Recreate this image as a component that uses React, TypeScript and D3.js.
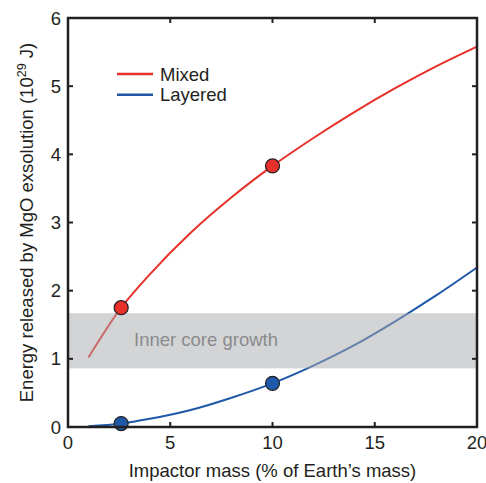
import React from "react";
import * as d3 from "d3";

const massValues = [1, 2.6, 4, 6, 8, 10, 12, 14, 16, 18, 20];
const mixedEnergy = [1.02, 1.75, 2.24, 2.85, 3.37, 3.83, 4.24, 4.62, 4.97, 5.29, 5.58];
const layeredEnergy = [0.01, 0.05, 0.12, 0.25, 0.43, 0.64, 0.9, 1.2, 1.55, 1.93, 2.34];
const markerMass = [2.6, 10];
const mixedMarkers = [1.75, 3.83];
const layeredMarkers = [0.05, 0.64];
const bandRange = [0.86, 1.67];
const xTicks = [0, 5, 10, 15, 20];
const yTicks = [0, 1, 2, 3, 4, 5, 6];
const seriesNames = ["Mixed", "Layered"];
const bandLabel = "Inner core growth";

const W = 486;
const H = 483;
const M = { left: 68, right: 477, top: 18, bottom: 427 };
const RED = "#e8302a";
const BLUE = "#1f58a8";
const AX = "#231f20";
const FONT = "Liberation Sans, Arial, Helvetica, sans-serif";
const FS = 18.5;

export default function App() {
  const x = d3.scaleLinear().domain([0, 20]).range([M.left, M.right]);
  const y = d3.scaleLinear().domain([0, 6]).range([M.bottom, M.top]);
  const line = d3
    .line<number>()
    .x((_, i) => x(massValues[i]))
    .y((d) => y(d))
    .curve(d3.curveMonotoneX);

  const tickLen = 5;
  return (
    <svg
      width={W}
      height={H}
      style={{ position: "absolute", left: 0, top: 0, background: "#fff" }}
      fontFamily={FONT}
    >
      <path d={line(mixedEnergy) || ""} fill="none" stroke={RED} strokeWidth={2} />
      <path d={line(layeredEnergy) || ""} fill="none" stroke={BLUE} strokeWidth={2} />
      <rect
        x={x(0)}
        y={y(bandRange[1])}
        width={x(20) - x(0)}
        height={y(bandRange[0]) - y(bandRange[1])}
        fill="rgb(167,169,173)"
        fillOpacity={0.5}
      />
      <text x={134} y={346} fontSize={FS} fill="#8a8b8d">
        {bandLabel}
      </text>
      {markerMass.map((m, i) => (
        <circle key={"r" + i} cx={x(m)} cy={y(mixedMarkers[i])} r={7} fill={RED} stroke={AX} strokeWidth={1.2} />
      ))}
      {markerMass.map((m, i) => (
        <circle key={"b" + i} cx={x(m)} cy={y(layeredMarkers[i])} r={7} fill={BLUE} stroke={AX} strokeWidth={1.2} />
      ))}
      <rect
        x={M.left}
        y={M.top}
        width={M.right - M.left}
        height={M.bottom - M.top}
        fill="none"
        stroke={AX}
        strokeWidth={2.5}
      />
      {xTicks.map((t) => (
        <g key={"xt" + t}>
          <line x1={x(t)} x2={x(t)} y1={M.bottom} y2={M.bottom - tickLen} stroke={AX} strokeWidth={2} />
          <line x1={x(t)} x2={x(t)} y1={M.top} y2={M.top + tickLen} stroke={AX} strokeWidth={2} />
          <text x={x(t)} y={M.bottom + 21.5} fontSize={FS} textAnchor="middle" fill={AX}>
            {t}
          </text>
        </g>
      ))}
      {yTicks.map((t) => (
        <g key={"yt" + t}>
          <line x1={M.left} x2={M.left + tickLen} y1={y(t)} y2={y(t)} stroke={AX} strokeWidth={2} />
          <line x1={M.right} x2={M.right - tickLen} y1={y(t)} y2={y(t)} stroke={AX} strokeWidth={2} />
          <text x={M.left - 7} y={y(t) + 6.5} fontSize={FS} textAnchor="end" fill={AX}>
            {t}
          </text>
        </g>
      ))}
      <text x={(M.left + M.right) / 2} y={477} fontSize={FS} textAnchor="middle" fill={AX}>
        Impactor mass (% of Earth’s mass)
      </text>
      <text
        transform={`translate(33,${(M.top + M.bottom) / 2}) rotate(-90)`}
        fontSize={FS}
        textAnchor="middle"
        fill={AX}
      >
        Energy released by MgO exsolution (10
        <tspan fontSize={FS * 0.68} dy={-7}>29</tspan>
        <tspan dy={7}> J)</tspan>
      </text>
      {seriesNames.map((n, i) => (
        <g key={n}>
          <line x1={117} x2={153} y1={74 + i * 20.7} y2={74 + i * 20.7} stroke={i === 0 ? RED : BLUE} strokeWidth={2.5} />
          <text x={160} y={80.5 + i * 20.7} fontSize={FS} fill={AX}>
            {n}
          </text>
        </g>
      ))}
    </svg>
  );
}
